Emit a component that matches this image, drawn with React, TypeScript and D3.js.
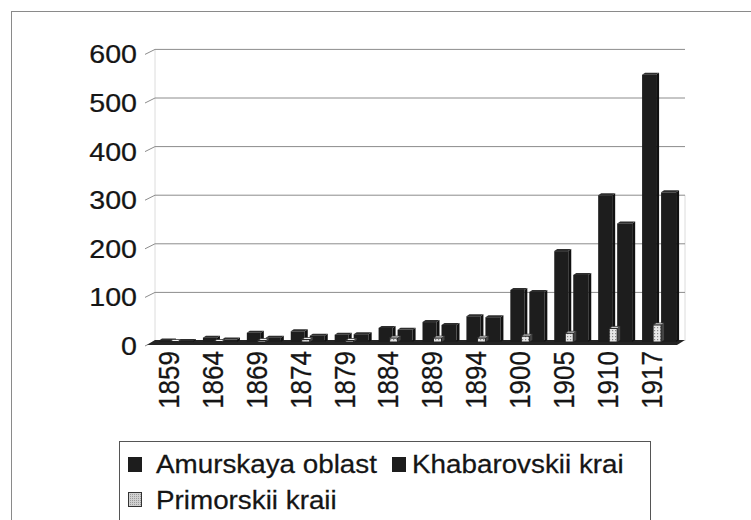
import React from "react";
import * as d3 from "d3";

const years = ["1859", "1864", "1869", "1874", "1879", "1884", "1889", "1894", "1900", "1905", "1910", "1917"];
const amurskaya = [3, 9, 19, 22, 15, 29, 41, 53, 107, 187, 302, 550];
const khabarovskii = [2, 5, 9, 13, 16, 25, 35, 51, 103, 138, 244, 308];
const primorskii = [1, 1, 3, 5, 3, 8, 8, 8, 12, 18, 28, 35];
const yTicks = [0, 100, 200, 300, 400, 500, 600];
const seriesNames = ["Amurskaya oblast", "Khabarovskii krai", "Primorskii kraii"];

const W = 751;
const H = 520;
const FONT = "'Liberation Sans', Arial, sans-serif";

export default function App() {
  const x0 = 147;
  const x1 = 674;
  const depthX = 8;
  const depthY = -4;
  const x = d3.scaleBand<string>().domain(years).range([x0, x1]).padding(0);
  const yFront = d3.scaleLinear().domain([0, 600]).range([345, 53.4]);
  const yBack = (v: number) => yFront(v) + depthY;
  const yBar = (v: number) => yFront(v) - 3;
  const barCol = "#1d1d1d";
  const textCol = "#151515";

  const bar = (bx: number, w: number, v: number, key: string, dotted = false) => {
    const top = yBar(v);
    const base = yBar(0);
    const dx = 3;
    const dy = -2;
    return (
      <g key={key}>
        <polygon
          points={`${bx + w},${top} ${bx + w + dx},${top + dy} ${bx + w + dx},${base + dy} ${bx + w},${base}`}
          fill={dotted ? "#444" : "#111"}
        />
        <polygon
          points={`${bx},${top} ${bx + dx},${top + dy} ${bx + w + dx},${top + dy} ${bx + w},${top}`}
          fill={dotted ? "#f4f4f4" : "#2e2e2e"}
          stroke={dotted ? "#333" : "none"}
          strokeWidth={dotted ? 0.8 : 0}
        />
        <rect
          x={bx}
          y={top}
          width={w}
          height={Math.max(0, base - top)}
          fill={dotted ? "url(#dots)" : barCol}
          stroke={dotted ? "#222" : "none"}
          strokeWidth={dotted ? 1 : 0}
        />
      </g>
    );
  };

  const legendText = (tx: number, ty: number, s: string) => (
    <text
      transform={`translate(${tx},${ty}) scale(1.07,1)`}
      dominantBaseline="central"
      fontSize={26}
      fill={textCol}
      stroke={textCol}
      strokeWidth={0.25}
    >
      {s}
    </text>
  );

  return (
    <svg
      width={W}
      height={H}
      style={{ position: "absolute", left: 0, top: 0, background: "#fff" }}
      fontFamily={FONT}
    >
      <defs>
        <pattern id="dots" width="3" height="3" patternUnits="userSpaceOnUse">
          <rect width="3" height="3" fill="#e8e8e8" />
          <rect x="0" y="0" width="1.2" height="1.2" fill="#8a8a8a" />
        </pattern>
        <pattern id="dotsLegend" width="2" height="2" patternUnits="userSpaceOnUse">
          <rect width="2" height="2" fill="#d0d0d0" />
          <rect x="0" y="0" width="1" height="1" fill="#9a9a9a" />
        </pattern>
      </defs>

      {/* outer frame */}
      <rect x={11.5} y={11.5} width={820} height={600} fill="none" stroke="#8a8a8a" strokeWidth={1} />

      {/* back wall edges */}
      <line x1={x0 + depthX} x2={x0 + depthX} y1={yBack(600)} y2={yBack(0)} stroke="#dcdcdc" />
      <line x1={x1 + depthX + 3} x2={x1 + depthX + 3} y1={yBack(300)} y2={yBack(0)} stroke="#dcdcdc" />

      {/* gridlines */}
      {yTicks.map((t) => (
        <g key={`g${t}`}>
          {t > 0 && (
            <line x1={x0 + depthX} x2={x1 + depthX + 3} y1={yBack(t)} y2={yBack(t)} stroke="#8c8c8c" strokeWidth={1} />
          )}
          <line x1={x0 - 2} x2={x0 + depthX} y1={yFront(t) + 1} y2={yBack(t)} stroke="#8c8c8c" strokeWidth={1} />
        </g>
      ))}

      {/* floor */}
      <polygon
        points={`${x0},${yFront(0)} ${x1 + 3},${yFront(0)} ${x1 + depthX + 3},${yBack(0) - 1} ${x0 + depthX},${yBack(0) - 1}`}
        fill="#242424"
      />

      {/* y tick labels */}
      {yTicks.map((t) => (
        <text
          key={`yl${t}`}
          transform={`translate(137,${yFront(t) + 1}) scale(1.1,1)`}
          textAnchor="end"
          dominantBaseline="central"
          fontSize={26}
          fill={textCol}
          stroke={textCol}
          strokeWidth={0.25}
        >
          {t}
        </text>
      ))}

      {/* bars */}
      {years.map((yr, i) => {
        const b = x(yr)!;
        return (
          <g key={yr}>
            {bar(b + 12, 14, amurskaya[i], `a${i}`)}
            {bar(b + 31, 15, khabarovskii[i], `k${i}`)}
            {bar(b + 23, 8, primorskii[i], `p${i}`, true)}
          </g>
        );
      })}

      {/* x tick labels */}
      {years.map((yr) => {
        const cx = x(yr)! + x.bandwidth() / 2;
        return (
          <text
            key={`xl${yr}`}
            transform={`translate(${cx},351) rotate(-90) scale(1,1.1)`}
            textAnchor="end"
            dominantBaseline="central"
            fontSize={26}
            fill={textCol}
            stroke={textCol}
            strokeWidth={0.25}
          >
            {yr}
          </text>
        );
      })}

      {/* legend */}
      <rect x={119.5} y={441.5} width={531} height={120} fill="#fff" stroke="#555" strokeWidth={1} />
      <rect x={128} y={457} width={14} height={15} fill={barCol} />
      {legendText(156, 464, seriesNames[0])}
      <rect x={392} y={457} width={14} height={15} fill={barCol} />
      {legendText(412, 464, seriesNames[1])}
      <rect x={128.5} y={492.5} width={13} height={14} fill="url(#dotsLegend)" stroke="#333" strokeWidth={1} />
      {legendText(156, 500, seriesNames[2])}
    </svg>
  );
}
